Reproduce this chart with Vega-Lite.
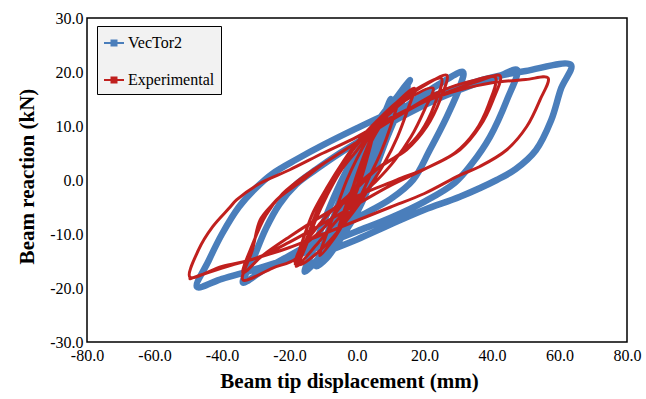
{
"$schema":"https://vega.github.io/schema/vega-lite/v6.json",
"width":540,"height":324,"autosize":"none",
"padding":{"left":87,"top":18,"right":19,"bottom":57},
"background":"white",
"config":{"view":{"stroke":"black","strokeWidth":1.5},
"axis":{"labelFont":"Liberation Serif","labelFontSize":16,"labelColor":"black","titleFont":"Liberation Serif","titleFontSize":21,"titleFontWeight":"bold","titleColor":"black","domain":false,"ticks":false,"gridColor":"#b5b5b5","gridDash":[1,2],"gridWidth":1,"labelFlush":false,"labelBound":false,"labelOverlap":false}},
"datasets":{
"blue":[
{"i":1,"x":0,"y":0},{"i":2,"x":3,"y":6},{"i":3,"x":5,"y":10},{"i":4,"x":3,"y":5},{"i":5,"x":0,"y":-1},{"i":6,"x":-3,"y":-5},{"i":7,"x":-5,"y":-9},{"i":8,"x":-2,"y":-4},{"i":9,"x":2,"y":3},{"i":10,"x":6,"y":9},{"i":11,"x":10,"y":15},{"i":12,"x":8,"y":11},{"i":13,"x":5,"y":5},{"i":14,"x":2,"y":0},{"i":15,"x":-2,"y":-5},{"i":16,"x":-6,"y":-10},{"i":17,"x":-10,"y":-14},{"i":18,"x":-7,"y":-9},{"i":19,"x":-4,"y":-4},{"i":20,"x":0,"y":2},{"i":21,"x":4,"y":7.5},{"i":22,"x":8,"y":12},{"i":23,"x":12,"y":15.5},{"i":24,"x":15.7,"y":18.5},{"i":25,"x":12.7,"y":15.4},{"i":26,"x":8.8,"y":9.9},{"i":27,"x":5.8,"y":5},{"i":28,"x":2.8,"y":-0.6},{"i":29,"x":0,"y":-5},{"i":30,"x":-5,"y":-10},{"i":31,"x":-10,"y":-13.5},{"i":32,"x":-15.5,"y":-17},{"i":33,"x":-13,"y":-13},{"i":34,"x":-10,"y":-8},{"i":35,"x":-6,"y":-2},{"i":36,"x":-2,"y":3},{"i":37,"x":3,"y":8},{"i":38,"x":8,"y":12.5},{"i":39,"x":12,"y":15.5},{"i":40,"x":15,"y":17.5},{"i":41,"x":13,"y":14},{"i":42,"x":9,"y":8},{"i":43,"x":6,"y":3},{"i":44,"x":3,"y":-2},{"i":45,"x":0,"y":-6},{"i":46,"x":-5,"y":-11},{"i":47,"x":-9,"y":-14.5},{"i":48,"x":-12,"y":-16},{"i":49,"x":-10,"y":-12},{"i":50,"x":-7,"y":-7},{"i":51,"x":-4,"y":-2},{"i":52,"x":0,"y":3},{"i":53,"x":5,"y":7.5},{"i":54,"x":10,"y":11},{"i":55,"x":15,"y":13.8},{"i":56,"x":20,"y":16},{"i":57,"x":25,"y":18},{"i":58,"x":31.4,"y":20},{"i":59,"x":30.5,"y":17.3},{"i":60,"x":26.6,"y":11.7},{"i":61,"x":21.6,"y":5.6},{"i":62,"x":16.6,"y":0},{"i":63,"x":10,"y":-3.5},{"i":64,"x":0,"y":-7},{"i":65,"x":-10,"y":-10.5},{"i":66,"x":-20,"y":-14},{"i":67,"x":-28,"y":-16.8},{"i":68,"x":-33.8,"y":-19},{"i":69,"x":-31,"y":-15},{"i":70,"x":-27,"y":-9},{"i":71,"x":-23,"y":-4.5},{"i":72,"x":-18,"y":-0.8},{"i":73,"x":-12,"y":2},{"i":74,"x":-5,"y":5},{"i":75,"x":5,"y":8.8},{"i":76,"x":15,"y":12.3},{"i":77,"x":25,"y":15.3},{"i":78,"x":35,"y":17.8},{"i":79,"x":42,"y":19.2},{"i":80,"x":47.4,"y":20.4},{"i":81,"x":44.4,"y":14.8},{"i":82,"x":39.4,"y":8},{"i":83,"x":34,"y":3},{"i":84,"x":29,"y":-0.5},{"i":85,"x":20,"y":-4},{"i":86,"x":10,"y":-7},{"i":87,"x":0,"y":-9.5},{"i":88,"x":-10,"y":-12},{"i":89,"x":-20,"y":-14.5},{"i":90,"x":-30,"y":-16.5},{"i":91,"x":-40,"y":-18.3},{"i":92,"x":-47.4,"y":-19.8},{"i":93,"x":-44,"y":-15},{"i":94,"x":-40,"y":-10},{"i":95,"x":-35,"y":-5},{"i":96,"x":-30,"y":-1.5},{"i":97,"x":-25,"y":1.2},{"i":98,"x":-18,"y":3.8},{"i":99,"x":-10,"y":6.5},{"i":100,"x":0,"y":9.6},{"i":101,"x":10,"y":12.5},{"i":102,"x":20,"y":15},{"i":103,"x":30,"y":17.2},{"i":104,"x":40,"y":19},{"i":105,"x":50,"y":20.2},{"i":106,"x":63.4,"y":21.3},{"i":107,"x":60.5,"y":17},{"i":108,"x":57.5,"y":11},{"i":109,"x":53,"y":5.5},{"i":110,"x":47,"y":2},{"i":111,"x":41.4,"y":0},{"i":112,"x":30.5,"y":-3.1},{"i":113,"x":20,"y":-5.5},{"i":114,"x":10,"y":-8.2},{"i":115,"x":0,"y":-11},{"i":116,"x":-8,"y":-13}
],
"red":[
{"i":1,"x":0,"y":0},{"i":2,"x":2,"y":4},{"i":3,"x":4,"y":7},{"i":4,"x":2,"y":3},{"i":5,"x":0,"y":-1},{"i":6,"x":-2,"y":-4},{"i":7,"x":-4,"y":-7},{"i":8,"x":-2,"y":-3},{"i":9,"x":0,"y":1},{"i":10,"x":3,"y":6},{"i":11,"x":5,"y":9},{"i":12,"x":3,"y":4},{"i":13,"x":0,"y":-2},{"i":14,"x":-3,"y":-6},{"i":15,"x":-6,"y":-10},{"i":16,"x":-4,"y":-6},{"i":17,"x":-1,"y":-1},{"i":18,"x":2,"y":4},{"i":19,"x":5,"y":8},{"i":20,"x":8,"y":11},{"i":21,"x":12,"y":14.5},{"i":22,"x":10,"y":10},{"i":23,"x":7,"y":5},{"i":24,"x":4,"y":1},{"i":25,"x":1,"y":-3},{"i":26,"x":-3,"y":-7},{"i":27,"x":-7,"y":-11},{"i":28,"x":-11,"y":-14},{"i":29,"x":-9,"y":-10},{"i":30,"x":-6,"y":-5},{"i":31,"x":-3,"y":0},{"i":32,"x":0,"y":4},{"i":33,"x":4,"y":8.5},{"i":34,"x":8,"y":12},{"i":35,"x":12,"y":14.5},{"i":36,"x":17,"y":17},{"i":37,"x":15,"y":13},{"i":38,"x":12,"y":8},{"i":39,"x":8,"y":3},{"i":40,"x":4,"y":-1},{"i":41,"x":0,"y":-5},{"i":42,"x":-5,"y":-9},{"i":43,"x":-10,"y":-12.5},{"i":44,"x":-17,"y":-15.7},{"i":45,"x":-15,"y":-12},{"i":46,"x":-12,"y":-7},{"i":47,"x":-9,"y":-3},{"i":48,"x":-5,"y":1.5},{"i":49,"x":0,"y":5.5},{"i":50,"x":5,"y":9.5},{"i":51,"x":10,"y":12.5},{"i":52,"x":15,"y":15},{"i":53,"x":22.5,"y":17},{"i":54,"x":20,"y":13},{"i":55,"x":16,"y":8},{"i":56,"x":11,"y":3.5},{"i":57,"x":6,"y":0},{"i":58,"x":0,"y":-3.5},{"i":59,"x":-6,"y":-7.5},{"i":60,"x":-12,"y":-12},{"i":61,"x":-18,"y":-16},{"i":62,"x":-15,"y":-11},{"i":63,"x":-12,"y":-6},{"i":64,"x":-8,"y":-1},{"i":65,"x":-4,"y":3},{"i":66,"x":0,"y":6.5},{"i":67,"x":5,"y":10},{"i":68,"x":10,"y":13},{"i":69,"x":15,"y":15.5},{"i":70,"x":20,"y":17.5},{"i":71,"x":26.6,"y":19.4},{"i":72,"x":24.6,"y":14.8},{"i":73,"x":20.7,"y":9.9},{"i":74,"x":14.7,"y":5.6},{"i":75,"x":6.8,"y":2.5},{"i":76,"x":0,"y":-1},{"i":77,"x":-5,"y":-5},{"i":78,"x":-10,"y":-9},{"i":79,"x":-17,"y":-13},{"i":80,"x":-18.5,"y":-15.5},{"i":81,"x":-16,"y":-11},{"i":82,"x":-13,"y":-6},{"i":83,"x":-9,"y":-1.5},{"i":84,"x":-4,"y":3.5},{"i":85,"x":0,"y":7},{"i":86,"x":6,"y":11},{"i":87,"x":12,"y":14.5},{"i":88,"x":18,"y":17},{"i":89,"x":25,"y":18.8},{"i":90,"x":23,"y":14},{"i":91,"x":19,"y":9},{"i":92,"x":13,"y":5},{"i":93,"x":6,"y":2},{"i":94,"x":0,"y":-1.5},{"i":95,"x":-8,"y":-6},{"i":96,"x":-14,"y":-10.5},{"i":97,"x":-18,"y":-14.5},{"i":98,"x":-25,"y":-16.3},{"i":99,"x":-33.8,"y":-18.5},{"i":100,"x":-31,"y":-13},{"i":101,"x":-28.7,"y":-7.4},{"i":102,"x":-25,"y":-4.5},{"i":103,"x":-22.8,"y":-3.1},{"i":104,"x":-16,"y":0},{"i":105,"x":-10,"y":3},{"i":106,"x":0,"y":7},{"i":107,"x":10,"y":11},{"i":108,"x":20,"y":14.5},{"i":109,"x":30,"y":17},{"i":110,"x":36,"y":18.3},{"i":111,"x":42.4,"y":19.3},{"i":112,"x":40.3,"y":14.8},{"i":113,"x":36.4,"y":9.9},{"i":114,"x":30.5,"y":5.6},{"i":115,"x":21.6,"y":2.5},{"i":116,"x":11.8,"y":0},{"i":117,"x":0,"y":-3},{"i":118,"x":-10,"y":-6.5},{"i":119,"x":-20,"y":-10.5},{"i":120,"x":-28,"y":-14},{"i":121,"x":-33.8,"y":-17.2},{"i":122,"x":-31,"y":-12},{"i":123,"x":-27,"y":-6.5},{"i":124,"x":-22,"y":-2.5},{"i":125,"x":-15,"y":1},{"i":126,"x":-5,"y":5},{"i":127,"x":5,"y":9},{"i":128,"x":15,"y":13},{"i":129,"x":25,"y":16.5},{"i":130,"x":35,"y":18.5},{"i":131,"x":41,"y":19},{"i":132,"x":39,"y":14},{"i":133,"x":35,"y":9},{"i":134,"x":29,"y":5},{"i":135,"x":20,"y":2},{"i":136,"x":10,"y":-1},{"i":137,"x":0,"y":-4.5},{"i":138,"x":-10,"y":-8},{"i":139,"x":-20,"y":-11.5},{"i":140,"x":-30,"y":-14.5},{"i":141,"x":-40,"y":-16},{"i":142,"x":-49.5,"y":-18},{"i":143,"x":-47,"y":-13},{"i":144,"x":-42.7,"y":-8.6},{"i":145,"x":-38,"y":-5.3},{"i":146,"x":-35.7,"y":-3.7},{"i":147,"x":-28.7,"y":-0.6},{"i":148,"x":-19.9,"y":1.9},{"i":149,"x":-10,"y":5},{"i":150,"x":0,"y":8},{"i":151,"x":10,"y":11.5},{"i":152,"x":20,"y":14.5},{"i":153,"x":30,"y":16.6},{"i":154,"x":40,"y":18},{"i":155,"x":50,"y":18.6},{"i":156,"x":56.6,"y":18.9},{"i":157,"x":54.2,"y":14.8},{"i":158,"x":50.3,"y":9.9},{"i":159,"x":44.4,"y":5.6},{"i":160,"x":36.4,"y":2.5},{"i":161,"x":30.5,"y":0.9},{"i":162,"x":20,"y":-2.5},{"i":163,"x":10,"y":-5},{"i":164,"x":0,"y":-7.5},{"i":165,"x":-10,"y":-10},{"i":166,"x":-20,"y":-12.5},{"i":167,"x":-30,"y":-14.5},{"i":168,"x":-40,"y":-16.3},{"i":169,"x":-49.5,"y":-18.3}
]},
"layer":[
{"mark":{"type":"rule","color":"#a0a0a0","strokeWidth":1.5},
 "encoding":{"x":{"datum":0,"type":"quantitative","scale":{"domain":[-80,80],"nice":false},"axis":{"values":[-80,-60,-40,-20,0,20,40,60,80],"labelExpr":"replace(format(datum.value, '.1f'), '−', '-')","labelFont":"Liberation Serif","labelFontSize":16,"labelPadding":5,"titlePadding":7,"titleX":262,"title":"Beam tip displacement (mm)"}}}},
{"mark":{"type":"rule","color":"#a0a0a0","strokeWidth":1.5},
 "encoding":{"y":{"datum":0,"type":"quantitative","scale":{"domain":[-30,30],"nice":false},"axis":{"values":[-30,-20,-10,0,10,20,30],"labelExpr":"replace(format(datum.value, '.1f'), '−', '-')","labelFont":"Liberation Serif","labelFontSize":16,"labelPadding":4,"titlePadding":12,"titleY":158,"title":"Beam reaction (kN)"}}}},
{"data":{"name":"blue"},"transform":[{"calculate":"'VecTor2'","as":"s"}],
 "mark":{"type":"line","strokeWidth":6.5,"interpolate":"catmull-rom","strokeJoin":"round","strokeCap":"round"},
 "encoding":{"x":{"field":"x","type":"quantitative","scale":{"domain":[-80,80],"nice":false},"title":"Beam tip displacement (mm)"},
 "y":{"field":"y","type":"quantitative","scale":{"domain":[-30,30],"nice":false},"title":"Beam reaction (kN)"},
 "order":{"field":"i","type":"quantitative"},
 "color":{"field":"s","type":"nominal","scale":{"domain":["VecTor2","Experimental"],"range":["#4a7ebb","#c0201e"]},
  "legend":{"orient":"none","legendX":10,"legendY":8,"title":null,"fillColor":"#f2f2f2","strokeColor":"black","padding":6,"rowPadding":18,"labelFont":"Liberation Serif","labelFontSize":16,"labelColor":"black","labelOffset":3,"symbolType":"M-1,0H1M-0.25,-0.25H0.25V0.25H-0.25Z","symbolSize":400,"symbolStrokeWidth":2,
  "encode":{"symbols":{"update":{"fill":{"scale":"color","field":"value"}}}}}}}},
{"data":{"name":"red"},"transform":[{"calculate":"'Experimental'","as":"s"}],
 "mark":{"type":"line","strokeWidth":3,"interpolate":"catmull-rom","strokeJoin":"round","strokeCap":"round"},
 "encoding":{"x":{"field":"x","type":"quantitative","title":"Beam tip displacement (mm)"},
 "y":{"field":"y","type":"quantitative","title":"Beam reaction (kN)"},
 "order":{"field":"i","type":"quantitative"},
 "color":{"field":"s","type":"nominal"}}}
]}
